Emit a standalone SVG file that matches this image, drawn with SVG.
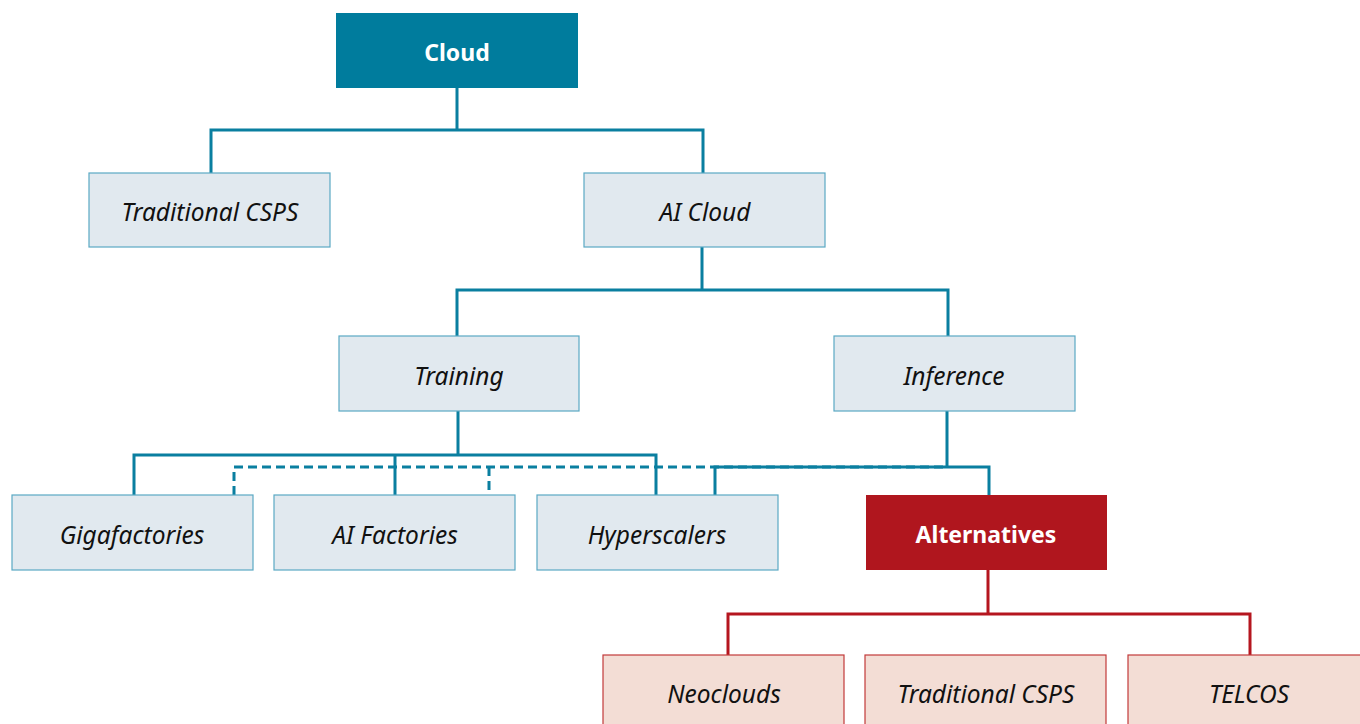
<svg xmlns="http://www.w3.org/2000/svg" width="1360" height="724" viewBox="0 0 1360 724">
  <style>
    .lbl { font-family: "Noto Sans", "Open Sans", sans-serif; text-anchor: middle; dominant-baseline: central; }
    .it { font-style: italic; font-size: 24.5px; fill: #111; }
    .bd { font-weight: bold; font-size: 23px; fill: #ffffff; }
    .box { fill: #e1e9ef; stroke: #5aa9c4; stroke-width: 1.2; }
    .pbox { fill: #f3ddd5; stroke: #c23a3a; stroke-width: 1.2; }
    .head { fill: #007c9d; }
    .alt { fill: #b0161e; }
    .ln { fill: none; stroke: #0a7fa0; stroke-width: 3; }
    .dash { fill: none; stroke: #0a7fa0; stroke-width: 3; stroke-dasharray: 9 5; }
    .rl { fill: none; stroke: #b5161f; stroke-width: 3; }
  </style>
  <rect width="1360" height="724" fill="#ffffff"/>

  <g id="connectors">
    <path class="ln" d="M457 88 V130 M211 173 V130 H703 V173"/>
    <path class="ln" d="M702 247 V290 M457 336 V290 H948 V336"/>
    <path class="ln" d="M458 411 V455 M134 495 V455 H656 V495 M395 455 V495"/>
    <path class="ln" d="M947 411 V467 M715 495 V467 H989 V495"/>
    <path class="dash" d="M234 495 V467 H947 M489 467 V495"/>
    <path class="rl" d="M988 570 V614 M728 655 V614 H1250 V655"/>
  </g>

  <g id="cloud">
    <rect class="head" x="336" y="13" width="242" height="75"/>
    <text class="lbl bd" x="457" y="52">Cloud</text>
  </g>
  <g id="traditional-csps">
    <rect class="box" x="89" y="173" width="241" height="74"/>
    <text class="lbl it" x="210" y="211">Traditional CSPS</text>
  </g>
  <g id="ai-cloud">
    <rect class="box" x="584" y="173" width="241" height="74"/>
    <text class="lbl it" x="705" y="211">AI Cloud</text>
  </g>
  <g id="training">
    <rect class="box" x="339" y="336" width="240" height="75"/>
    <text class="lbl it" x="459" y="375">Training</text>
  </g>
  <g id="inference">
    <rect class="box" x="834" y="336" width="241" height="75"/>
    <text class="lbl it" x="954" y="375">Inference</text>
  </g>
  <g id="gigafactories">
    <rect class="box" x="12" y="495" width="241" height="75"/>
    <text class="lbl it" x="132" y="534">Gigafactories</text>
  </g>
  <g id="ai-factories">
    <rect class="box" x="274" y="495" width="241" height="75"/>
    <text class="lbl it" x="395" y="534">AI Factories</text>
  </g>
  <g id="hyperscalers">
    <rect class="box" x="537" y="495" width="241" height="75"/>
    <text class="lbl it" x="657" y="534">Hyperscalers</text>
  </g>
  <g id="alternatives">
    <rect class="alt" x="866" y="495" width="241" height="75"/>
    <text class="lbl bd" x="986" y="534">Alternatives</text>
  </g>
  <g id="neoclouds">
    <rect class="pbox" x="603" y="655" width="241" height="80"/>
    <text class="lbl it" x="724" y="693">Neoclouds</text>
  </g>
  <g id="alt-traditional-csps">
    <rect class="pbox" x="865" y="655" width="241" height="80"/>
    <text class="lbl it" x="986" y="693">Traditional CSPS</text>
  </g>
  <g id="telcos">
    <rect class="pbox" x="1128" y="655" width="241" height="80"/>
    <text class="lbl it" x="1249" y="693">TELCOS</text>
  </g>
</svg>
